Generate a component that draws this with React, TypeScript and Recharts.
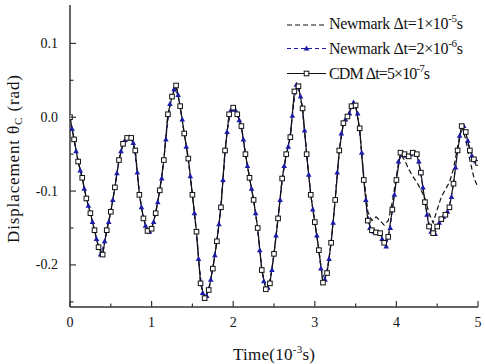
import { LineChart, Line, XAxis, YAxis } from 'recharts'

// time axis in units of 1e-3 s
const timeA = [
    0, 0.05, 0.1, 0.15, 0.2, 0.25, 0.3, 0.35, 0.4, 0.45,
    0.5, 0.55, 0.6, 0.65, 0.7, 0.75, 0.8, 0.85, 0.9, 0.95,
    1, 1.05, 1.1, 1.15, 1.2, 1.25, 1.3, 1.35, 1.4, 1.45,
    1.5, 1.55, 1.6, 1.65, 1.7, 1.75, 1.8, 1.85, 1.9, 1.95,
    2, 2.05, 2.1, 2.15, 2.2, 2.25, 2.3, 2.35, 2.4, 2.45,
    2.5, 2.55, 2.6, 2.65, 2.7, 2.75, 2.8, 2.85, 2.9, 2.95,
    3, 3.05, 3.1, 3.15, 3.2, 3.25, 3.3, 3.35, 3.4, 3.45,
    3.5, 3.55, 3.6, 3.65, 3.7, 3.75, 3.8, 3.85, 3.9, 3.95,
    4, 4.05, 4.1, 4.15, 4.2, 4.25, 4.3, 4.35, 4.4, 4.45,
    4.5, 4.55, 4.6, 4.65, 4.7, 4.75, 4.8, 4.85, 4.9, 4.95,
    5,
]

const timeB = [
    0.025, 0.075, 0.125, 0.175, 0.225, 0.275, 0.325, 0.375, 0.425, 0.475,
    0.525, 0.575, 0.625, 0.675, 0.725, 0.775, 0.825, 0.875, 0.925, 0.975,
    1.025, 1.075, 1.125, 1.175, 1.225, 1.275, 1.325, 1.375, 1.425, 1.475,
    1.525, 1.575, 1.625, 1.675, 1.725, 1.775, 1.825, 1.875, 1.925, 1.975,
    2.025, 2.075, 2.125, 2.175, 2.225, 2.275, 2.325, 2.375, 2.425, 2.475,
    2.525, 2.575, 2.625, 2.675, 2.725, 2.775, 2.825, 2.875, 2.925, 2.975,
    3.025, 3.075, 3.125, 3.175, 3.225, 3.275, 3.325, 3.375, 3.425, 3.475,
    3.525, 3.575, 3.625, 3.675, 3.725, 3.775, 3.825, 3.875, 3.925, 3.975,
    4.025, 4.075, 4.125, 4.175, 4.225, 4.275, 4.325, 4.375, 4.425, 4.475,
    4.525, 4.575, 4.625, 4.675, 4.725, 4.775, 4.825, 4.875, 4.925, 4.975,
]

// Newmark, dt = 1e-5 s (on timeA)
const newmarkCoarse = [
    0, -0.03, -0.06, -0.082, -0.11, -0.13, -0.153, -0.176, -0.186, -0.153,
    -0.128, -0.095, -0.058, -0.036, -0.028, -0.028, -0.045, -0.105, -0.137, -0.154,
    -0.151, -0.13, -0.099, -0.058, 0.004, 0.028, 0.043, 0.015, -0.022, -0.056,
    -0.105, -0.155, -0.225, -0.245, -0.234, -0.205, -0.168, -0.122, -0.045, 0.004,
    0.013, 0.004, -0.012, -0.05, -0.082, -0.112, -0.15, -0.207, -0.233, -0.225,
    -0.185, -0.137, -0.083, -0.05, -0.027, 0.035, 0.042, 0.012, -0.05, -0.105,
    -0.142, -0.18, -0.224, -0.211, -0.17, -0.112, -0.045, -0.008, 0.001, 0.015,
    0.016, -0.018, -0.08, -0.128, -0.14, -0.135, -0.14, -0.146, -0.14, -0.115,
    -0.08, -0.05, -0.058, -0.07, -0.08, -0.088, -0.098, -0.11, -0.13, -0.143,
    -0.125, -0.108, -0.098, -0.088, -0.07, -0.04, -0.012, -0.03, -0.058, -0.082,
    -0.095,
]

// Newmark, dt = 2e-6 s (on timeB)
const newmarkFine = [
    -0.016, -0.046, -0.072, -0.097, -0.12, -0.142, -0.165, -0.186, -0.168, -0.142,
    -0.112, -0.076, -0.046, -0.031, -0.027, -0.035, -0.075, -0.122, -0.147, -0.155,
    -0.142, -0.115, -0.083, -0.03, 0.018, 0.038, 0.03, -0.003, -0.04, -0.08,
    -0.13, -0.192, -0.238, -0.242, -0.22, -0.187, -0.145, -0.085, -0.02, 0.01,
    0.01, -0.004, -0.03, -0.066, -0.097, -0.13, -0.18, -0.222, -0.231, -0.207,
    -0.16, -0.112, -0.066, -0.04, 0.002, 0.044, 0.028, -0.018, -0.078, -0.125,
    -0.16, -0.205, -0.22, -0.192, -0.143, -0.075, -0.022, -0.003, 0.005, 0.02,
    0.005, -0.048, -0.112, -0.15, -0.155, -0.156, -0.165, -0.175, -0.15, -0.105,
    -0.06, -0.049, -0.052, -0.05, -0.048, -0.06, -0.095, -0.132, -0.155, -0.158,
    -0.143, -0.135, -0.128, -0.108, -0.068, -0.025, -0.012, -0.032, -0.052, -0.06,
]

// CDM, dt = 5e-7 s (on timeA)
const cdm = [
    0, -0.03, -0.06, -0.082, -0.11, -0.13, -0.153, -0.176, -0.186, -0.153,
    -0.128, -0.095, -0.058, -0.036, -0.028, -0.028, -0.045, -0.105, -0.137, -0.154,
    -0.151, -0.13, -0.099, -0.058, 0.004, 0.028, 0.043, 0.015, -0.022, -0.056,
    -0.105, -0.155, -0.225, -0.245, -0.234, -0.205, -0.168, -0.122, -0.045, 0.004,
    0.013, 0.004, -0.012, -0.05, -0.082, -0.112, -0.15, -0.207, -0.233, -0.225,
    -0.185, -0.137, -0.083, -0.05, -0.027, 0.035, 0.042, 0.012, -0.05, -0.105,
    -0.142, -0.18, -0.224, -0.211, -0.17, -0.112, -0.045, -0.008, 0.001, 0.015,
    0.016, -0.015, -0.085, -0.14, -0.153, -0.156, -0.157, -0.17, -0.162, -0.125,
    -0.085, -0.048, -0.05, -0.053, -0.048, -0.05, -0.075, -0.115, -0.148, -0.157,
    -0.148, -0.138, -0.132, -0.122, -0.09, -0.045, -0.012, -0.02, -0.045, -0.057,
    -0.062,
]

const xTicks = [0, 0.5, 1, 1.5, 2, 2.5, 3, 3.5, 4, 4.5, 5]
const yTicks = [-0.25, -0.2, -0.15, -0.1, -0.05, 0, 0.05, 0.1]

const coarseData = timeA.map((t, i) => ({ t, v: newmarkCoarse[i] }))
const fineData = timeB.map((t, i) => ({ t, v: newmarkFine[i] }))
const cdmData = timeA.map((t, i) => ({ t, v: cdm[i] }))

const serif = { fontFamily: "'Liberation Serif', 'Times New Roman', serif" }
const AXIS = '#333'
const BLUE = '#1c1caa'

const isMajorX = (v: number) => Math.abs(v - Math.round(v)) < 1e-6
const isMajorY = (v: number) => Math.abs(v * 10 - Math.round(v * 10)) < 1e-6

// ticks point inward on all four sides
const BottomTick = ({ x, y, payload }: any) => {
    const major = isMajorX(payload.value)
    return (
        <g>
            <line x1={x} x2={x} y1={y} y2={y - (major ? 6 : 3.5)} stroke={AXIS} strokeWidth={1.2} />
            {major && (
                <text x={x} y={y + 20} textAnchor="middle" fontSize={14} style={serif} fill="#111">
                    {payload.value}
                </text>
            )}
        </g>
    )
}

const TopTick = ({ x, y, payload }: any) => {
    const major = isMajorX(payload.value)
    return <line x1={x} x2={x} y1={y} y2={y + (major ? 6 : 3.5)} stroke={AXIS} strokeWidth={1.2} />
}

const LeftTick = ({ x, y, payload }: any) => {
    const major = isMajorY(payload.value)
    return (
        <g>
            <line x1={x} x2={x + (major ? 6 : 3.5)} y1={y} y2={y} stroke={AXIS} strokeWidth={1.2} />
            {major && (
                <text x={x - 12} y={y + 4.5} textAnchor="end" fontSize={14} style={serif} fill="#111">
                    {payload.value.toFixed(1)}
                </text>
            )}
        </g>
    )
}

const RightTick = ({ x, y, payload }: any) => {
    const major = isMajorY(payload.value)
    return <line x1={x} x2={x - (major ? 6 : 3.5)} y1={y} y2={y} stroke={AXIS} strokeWidth={1.2} />
}

const Square = (p: any) =>
    p.cx == null ? null : (
        <rect key={`sq-${p.index}`} x={p.cx - 2.3} y={p.cy - 2.3} width={4.6} height={4.6} fill="#fff" stroke="#111" strokeWidth={1} />
    )

const Triangle = (p: any) =>
    p.cx == null ? null : (
        <path
            key={`tr-${p.index}`}
            d={`M${p.cx},${p.cy - 3} L${p.cx + 2.8},${p.cy + 2} L${p.cx - 2.8},${p.cy + 2} Z`}
            fill={BLUE}
        />
    )

const Legend = () => (
    <g style={serif} fontSize={16} fill="#111">
        <line x1={287} x2={326} y1={25} y2={25} stroke="#111" strokeWidth={1.2} strokeDasharray="5 3" />
        <text x={329} y={29} textLength={134} lengthAdjust="spacing">
            Newmark Δt=1×10<tspan dy={-7} fontSize={11}>-5</tspan><tspan dy={7}>s</tspan>
        </text>
        <line x1={287} x2={326} y1={48.5} y2={48.5} stroke={BLUE} strokeWidth={1} strokeDasharray="4 3" />
        <path d="M306.5,45.5 L309.3,50.5 L303.7,50.5 Z" fill={BLUE} />
        <text x={329} y={53.5} textLength={134} lengthAdjust="spacing">
            Newmark Δt=2×10<tspan dy={-7} fontSize={11}>-6</tspan><tspan dy={7}>s</tspan>
        </text>
        <line x1={287} x2={326} y1={73.5} y2={73.5} stroke="#111" strokeWidth={1.2} />
        <rect x={304.2} y={71.2} width={4.6} height={4.6} fill="#fff" stroke="#111" strokeWidth={1} />
        <text x={329} y={78.5} textLength={101} lengthAdjust="spacing">
            CDM Δt=5×10<tspan dy={-7} fontSize={11}>-7</tspan><tspan dy={7}>s</tspan>
        </text>
    </g>
)

export default function App() {
    const domainY: [number, number] = [-0.257, 0.152]
    return (
        <div style={{ position: 'absolute', left: 0, top: 0, width: 485, height: 364, background: '#fff' }}>
            <LineChart width={485} height={364} margin={{ top: 5, right: 7, bottom: 0, left: 0 }}>
                <XAxis
                    xAxisId={0}
                    dataKey="t"
                    type="number"
                    domain={[0, 5]}
                    ticks={xTicks}
                    interval={0}
                    allowDataOverflow
                    height={57}
                    tickSize={0}
                    tickMargin={0}
                    tickLine={false}
                    tick={BottomTick}
                    axisLine={{ stroke: AXIS, strokeWidth: 1.5 }}
                />
                <XAxis
                    xAxisId="top"
                    orientation="top"
                    dataKey="t"
                    type="number"
                    domain={[0, 5]}
                    ticks={xTicks}
                    interval={0}
                    allowDataOverflow
                    height={0}
                    tickSize={0}
                    tickMargin={0}
                    tickLine={false}
                    tick={TopTick}
                    axisLine={{ stroke: AXIS, strokeWidth: 1.5 }}
                />
                <YAxis
                    yAxisId={0}
                    type="number"
                    domain={domainY}
                    ticks={yTicks}
                    interval={0}
                    allowDataOverflow
                    width={70}
                    tickSize={0}
                    tickMargin={0}
                    tickLine={false}
                    tick={LeftTick}
                    axisLine={{ stroke: AXIS, strokeWidth: 1.5 }}
                />
                <YAxis
                    yAxisId="right"
                    orientation="right"
                    type="number"
                    domain={domainY}
                    ticks={yTicks}
                    interval={0}
                    allowDataOverflow
                    width={0}
                    tickSize={0}
                    tickMargin={0}
                    tickLine={false}
                    tick={RightTick}
                    axisLine={{ stroke: AXIS, strokeWidth: 1.5 }}
                />
                <Line
                    data={coarseData}
                    dataKey="v"
                    type="linear"
                    stroke="#111"
                    strokeWidth={1.2}
                    strokeDasharray="5 3"
                    dot={false}
                    activeDot={false}
                    isAnimationActive={false}
                />
                <Line
                    data={fineData}
                    dataKey="v"
                    type="linear"
                    stroke={BLUE}
                    strokeWidth={1}
                    strokeDasharray="4 3"
                    dot={Triangle}
                    activeDot={false}
                    isAnimationActive={false}
                />
                <Line
                    data={cdmData}
                    dataKey="v"
                    type="linear"
                    stroke="#111"
                    strokeWidth={1.2}
                    dot={Square}
                    activeDot={false}
                    isAnimationActive={false}
                />
            </LineChart>
            <svg width={485} height={364} style={{ position: 'absolute', left: 0, top: 0, pointerEvents: 'none' }}>
                <Legend />
                <text x={233} y={360} textLength={82} lengthAdjust="spacing" style={serif} fontSize={17} fill="#111">
                    Time(10<tspan dy={-7} fontSize={11}>-3</tspan><tspan dy={7}>s)</tspan>
                </text>
                <text
                    transform="translate(19,243) rotate(-90)"
                    textLength={168}
                    lengthAdjust="spacing"
                    style={serif}
                    fontSize={17}
                    fill="#111"
                >
                    Displacement θ<tspan dy={3} fontSize={11}>C</tspan><tspan dy={-3}> (rad)</tspan>
                </text>
            </svg>
        </div>
    )
}
